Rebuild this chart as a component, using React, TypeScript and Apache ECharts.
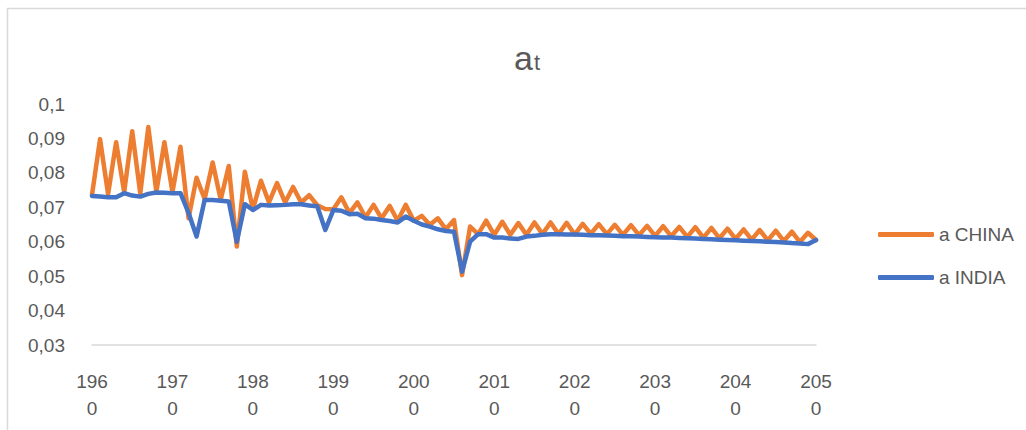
import React, { useEffect, useRef } from "react";
import * as echarts from "echarts";

// Yearly categories, 1960–2050
const years = [
  "1960", "1961", "1962", "1963", "1964", "1965", "1966", "1967", "1968", "1969",
  "1970", "1971", "1972", "1973", "1974", "1975", "1976", "1977", "1978", "1979",
  "1980", "1981", "1982", "1983", "1984", "1985", "1986", "1987", "1988", "1989",
  "1990", "1991", "1992", "1993", "1994", "1995", "1996", "1997", "1998", "1999",
  "2000", "2001", "2002", "2003", "2004", "2005", "2006", "2007", "2008", "2009",
  "2010", "2011", "2012", "2013", "2014", "2015", "2016", "2017", "2018", "2019",
  "2020", "2021", "2022", "2023", "2024", "2025", "2026", "2027", "2028", "2029",
  "2030", "2031", "2032", "2033", "2034", "2035", "2036", "2037", "2038", "2039",
  "2040", "2041", "2042", "2043", "2044", "2045", "2046", "2047", "2048", "2049",
  "2050",
];

// a_t for China
const chinaA = [
  0.0736, 0.0898, 0.0738, 0.0889, 0.0744, 0.0921, 0.0740, 0.0933, 0.0745, 0.0889,
  0.0744, 0.0876, 0.0668, 0.0786, 0.0724, 0.0830, 0.0722, 0.0820, 0.0586, 0.0803,
  0.0694, 0.0777, 0.0714, 0.0770, 0.0714, 0.0759, 0.0714, 0.0735, 0.0706, 0.0695,
  0.0694, 0.0729, 0.0683, 0.0714, 0.0671, 0.0707, 0.0668, 0.0704, 0.0661, 0.0707,
  0.0661, 0.0675, 0.0649, 0.0668, 0.0636, 0.0663, 0.0503, 0.0644, 0.0622, 0.0661,
  0.0620, 0.0658, 0.0620, 0.0654, 0.0620, 0.0656, 0.0622, 0.0656, 0.0622, 0.0655,
  0.0621, 0.0652, 0.0623, 0.0651, 0.0622, 0.0649, 0.0620, 0.0648, 0.0619, 0.0646,
  0.0617, 0.0645, 0.0616, 0.0643, 0.0614, 0.0642, 0.0612, 0.0640, 0.0610, 0.0638,
  0.0608, 0.0636, 0.0606, 0.0634, 0.0604, 0.0632, 0.0602, 0.0629, 0.0599, 0.0626,
  0.0605,
];

// a_t for India
const indiaA = [
  0.0733, 0.0731, 0.0729, 0.0729, 0.0741, 0.0734, 0.0731, 0.0739, 0.0743, 0.0742,
  0.0741, 0.0741, 0.0684, 0.0615, 0.0721, 0.0721, 0.0719, 0.0717, 0.0600, 0.0709,
  0.0692, 0.0707, 0.0705, 0.0706, 0.0707, 0.0709, 0.0709, 0.0705, 0.0703, 0.0634,
  0.0692, 0.0690, 0.0680, 0.0681, 0.0668, 0.0667, 0.0663, 0.0660, 0.0656, 0.0673,
  0.0661, 0.0650, 0.0644, 0.0636, 0.0631, 0.0629, 0.0513, 0.0600, 0.0622, 0.0622,
  0.0612, 0.0612, 0.0609, 0.0608, 0.0615, 0.0617, 0.0620, 0.0622, 0.0622, 0.0621,
  0.0621, 0.0620, 0.0619, 0.0619, 0.0618, 0.0617, 0.0616, 0.0616, 0.0615, 0.0614,
  0.0613, 0.0612, 0.0612, 0.0611, 0.0610, 0.0609, 0.0608, 0.0607, 0.0606, 0.0605,
  0.0604, 0.0603, 0.0602, 0.0601, 0.0600, 0.0599, 0.0598, 0.0596, 0.0595, 0.0593,
  0.0605,
];

const seriesNames = ["a CHINA", "a INDIA"];
const seriesColors = ["#ED7D31", "#4472C4"];

const FONT = "'Liberation Sans', Arial, sans-serif";
const GREY_TEXT = "#595959";

export default function App() {
  const ref = useRef<HTMLDivElement>(null);

  useEffect(() => {
    if (!ref.current) return;
    const chart = echarts.init(ref.current, undefined, { renderer: "svg" });

    const lineSeries = [chinaA, indiaA].map((values, i) => ({
      name: seriesNames[i],
      type: "line",
      data: values,
      showSymbol: false,
      symbol: "none",
      color: seriesColors[i],
      lineStyle: { width: 4.5, color: seriesColors[i], cap: "round", join: "round" },
      z: 2 + i,
    }));

    chart.setOption({
      animation: false,
      textStyle: { fontFamily: FONT },
      title: {
        text: "{a|a}{t|t}",
        left: 509,
        top: 36,
        textStyle: {
          fontWeight: "normal",
          rich: {
            a: {
              fontSize: 34, fontWeight: "normal", color: GREY_TEXT, fontFamily: FONT,
              verticalAlign: "bottom",
            },
            t: {
              fontSize: 22, fontWeight: "normal", color: GREY_TEXT, fontFamily: FONT,
              verticalAlign: "bottom", padding: [0, 0, 2, 1],
            },
          },
        },
      },
      legend: {
        orient: "vertical",
        left: 873,
        top: 220,
        itemWidth: 56,
        itemHeight: 5,
        itemGap: 24,
        icon: "roundRect",
        data: seriesNames,
        textStyle: { fontSize: 19, color: GREY_TEXT, fontFamily: FONT },
      },
      grid: { left: 92, top: 104, width: 724, height: 241, containLabel: false },
      xAxis: {
        type: "category",
        data: years,
        boundaryGap: false,
        axisLine: { show: true, lineStyle: { color: "#d9d9d9", width: 1.5 } },
        axisTick: { show: false },
        splitLine: { show: false },
        axisLabel: {
          interval: 9,
          formatter: (v: string) => v.slice(0, 3) + "\n" + v.slice(3),
          fontSize: 19,
          lineHeight: 27,
          color: GREY_TEXT,
          fontFamily: FONT,
          margin: 23,
        },
      },
      yAxis: {
        type: "value",
        min: 0.03,
        max: 0.1,
        interval: 0.01,
        axisLine: { show: false },
        axisTick: { show: false },
        splitLine: { show: false },
        axisLabel: {
          formatter: (v: number) => String(Number(v.toFixed(2))).replace(".", ","),
          fontSize: 19,
          color: GREY_TEXT,
          fontFamily: FONT,
          margin: 27,
        },
      },
      graphic: [
        {
          type: "rect",
          shape: { x: 7.5, y: 8.5, width: 1100, height: 600 },
          style: { fill: "none", stroke: "#d9d9d9", lineWidth: 1.5 },
          silent: true,
        },
      ],
      series: lineSeries,
    });

    return () => chart.dispose();
  }, []);

  return (
    <div
      ref={ref}
      style={{ position: "absolute", left: 0, top: 0, width: 1026, height: 430, background: "#fff" }}
    />
  );
}
